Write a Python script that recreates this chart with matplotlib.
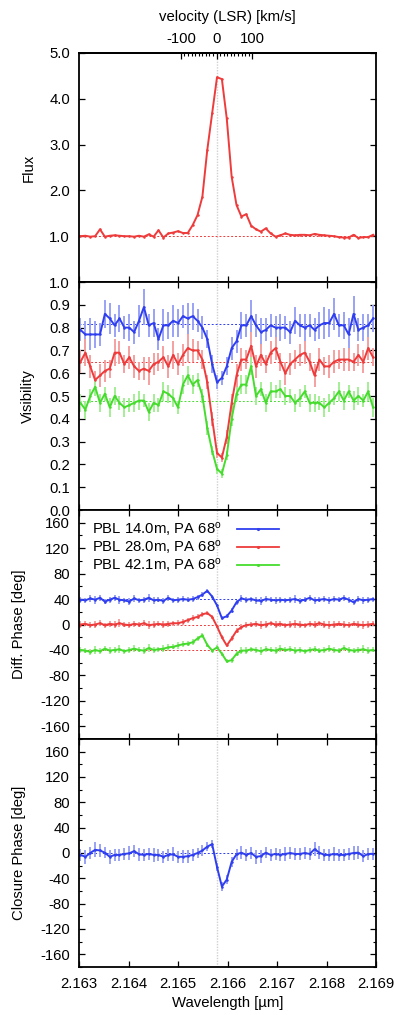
import numpy as np
import matplotlib
matplotlib.use("Agg")
import matplotlib.pyplot as plt
from matplotlib.lines import Line2D
from matplotlib.ticker import FixedLocator, FormatStrFormatter

FS = 10.7
plt.rcParams['font.family'] = ['Liberation Sans', 'DejaVu Sans']
plt.rcParams['font.size'] = FS
plt.rcParams['axes.unicode_minus'] = False
plt.rcParams['mathtext.fontset'] = 'custom'
plt.rcParams['mathtext.rm'] = 'Liberation Sans'
plt.rcParams['mathtext.it'] = 'Liberation Sans:italic'

# ---------------- data ----------------
lambda0 = 2.16578          # rest wavelength for velocity 0 (micron)
wl_start = 2.16303
wl_step = 0.0000985
n_pts = 61
wavelength = wl_start + wl_step * np.arange(n_pts)

flux = [1.00, 1.01, 0.99, 1.00, 1.15, 0.99, 1.01, 1.02, 1.01, 1.00,
        1.00, 0.99, 1.01, 0.99, 1.04, 0.99, 1.13, 0.97, 1.06, 1.08,
        1.11, 1.07, 1.07, 1.24, 1.46, 1.86, 2.88, 3.68, 4.47, 4.43,
        3.57, 2.30, 1.68, 1.43, 1.48, 1.23, 1.15, 1.10, 1.17, 1.06,
        0.99, 1.02, 1.06, 1.03, 1.02, 1.03, 1.03, 1.02, 1.05, 1.03,
        1.02, 1.01, 1.00, 0.98, 0.97, 0.97, 1.03, 0.96, 0.98, 0.98, 1.03]

vis_b = [0.79, 0.77, 0.77, 0.77, 0.77, 0.86, 0.84, 0.81, 0.84, 0.80,
         0.80, 0.78, 0.83, 0.89, 0.81, 0.82, 0.75, 0.81, 0.81, 0.83,
         0.82, 0.85, 0.84, 0.85, 0.83, 0.80, 0.75, 0.64, 0.56, 0.58,
         0.63, 0.71, 0.74, 0.81, 0.81, 0.85, 0.81, 0.78, 0.79, 0.81,
         0.80, 0.80, 0.80, 0.78, 0.83, 0.81, 0.80, 0.81, 0.79, 0.81,
         0.82, 0.82, 0.86, 0.81, 0.81, 0.77, 0.86, 0.79, 0.80, 0.81, 0.84]
vis_b_err = [0.05, 0.06, 0.07, 0.06, 0.05, 0.06, 0.07, 0.05, 0.06, 0.05,
             0.06, 0.05, 0.07, 0.08, 0.05, 0.06, 0.05, 0.07, 0.06, 0.07,
             0.06, 0.05, 0.07, 0.06, 0.05, 0.05, 0.04, 0.04, 0.03, 0.03,
             0.04, 0.05, 0.05, 0.06, 0.05, 0.07, 0.05, 0.06, 0.05, 0.05,
             0.05, 0.06, 0.05, 0.05, 0.06, 0.05, 0.06, 0.05, 0.05, 0.06,
             0.07, 0.06, 0.07, 0.05, 0.06, 0.07, 0.08, 0.05, 0.06, 0.05, 0.06]

vis_r = [0.65, 0.69, 0.63, 0.57, 0.59, 0.61, 0.62, 0.69, 0.69, 0.64,
         0.67, 0.63, 0.61, 0.62, 0.61, 0.64, 0.65, 0.67, 0.63, 0.68,
         0.64, 0.68, 0.71, 0.70, 0.70, 0.66, 0.56, 0.40, 0.25, 0.23,
         0.32, 0.47, 0.59, 0.66, 0.66, 0.72, 0.63, 0.68, 0.64, 0.69,
         0.71, 0.65, 0.60, 0.64, 0.66, 0.68, 0.69, 0.65, 0.59, 0.66,
         0.63, 0.63, 0.65, 0.66, 0.66, 0.66, 0.65, 0.68, 0.65, 0.71, 0.67]
vis_r_err = [0.05, 0.06, 0.05, 0.04, 0.05, 0.05, 0.04, 0.06, 0.05, 0.04,
             0.05, 0.05, 0.04, 0.05, 0.06, 0.05, 0.04, 0.05, 0.05, 0.06,
             0.05, 0.05, 0.06, 0.05, 0.04, 0.04, 0.03, 0.03, 0.02, 0.02,
             0.03, 0.04, 0.05, 0.05, 0.04, 0.06, 0.05, 0.05, 0.04, 0.05,
             0.05, 0.04, 0.05, 0.05, 0.04, 0.05, 0.05, 0.04, 0.05, 0.05,
             0.04, 0.05, 0.05, 0.04, 0.05, 0.05, 0.04, 0.05, 0.05, 0.05, 0.04]

vis_g = [0.47, 0.44, 0.50, 0.54, 0.47, 0.51, 0.45, 0.50, 0.47, 0.45,
         0.46, 0.47, 0.48, 0.48, 0.43, 0.47, 0.46, 0.52, 0.51, 0.49,
         0.45, 0.55, 0.59, 0.55, 0.57, 0.50, 0.36, 0.26, 0.18, 0.16,
         0.24, 0.40, 0.51, 0.55, 0.55, 0.63, 0.50, 0.53, 0.47, 0.52,
         0.52, 0.53, 0.50, 0.50, 0.47, 0.49, 0.52, 0.47, 0.47, 0.47,
         0.45, 0.47, 0.49, 0.52, 0.48, 0.52, 0.48, 0.50, 0.48, 0.52, 0.45]
vis_g_err = [0.04, 0.04, 0.03, 0.04, 0.04, 0.03, 0.04, 0.04, 0.03, 0.04,
             0.03, 0.04, 0.04, 0.03, 0.04, 0.04, 0.03, 0.04, 0.04, 0.04,
             0.03, 0.04, 0.04, 0.04, 0.03, 0.03, 0.03, 0.02, 0.02, 0.02,
             0.02, 0.03, 0.03, 0.04, 0.04, 0.04, 0.04, 0.03, 0.04, 0.04,
             0.03, 0.04, 0.04, 0.03, 0.04, 0.04, 0.03, 0.04, 0.04, 0.03,
             0.04, 0.04, 0.03, 0.04, 0.04, 0.03, 0.04, 0.04, 0.03, 0.04, 0.04]

dphi_b = [39, 38, 41, 39, 42, 36, 39, 42, 39, 38,
          36, 41, 38, 39, 42, 38, 39, 37, 42, 38,
          39, 40, 39, 40, 43, 47, 53, 44, 30, 10,
          13, 22, 35, 41, 39, 40, 38, 37, 40, 39,
          38, 39, 38, 39, 40, 37, 39, 42, 38, 39,
          40, 38, 40, 39, 42, 39, 35, 40, 38, 39, 40]
dphi_r = [0, 1, -1, 0, 2, -1, 1, 0, 2, 0,
          -1, 1, 0, 2, -1, 0, 1, 0, 1, 2,
          2, 4, 7, 10, 12, 16, 18, 12, -3, -20,
          -33, -22, -10, -4, -1, 0, 1, -1, 0, 2,
          0, 1, -1, 0, 1, 0, -1, 1, 0, 2,
          0, -1, 0, 1, 0, -1, 1, 0, -1, 0, 1]
dphi_g = [-40, -41, -43, -40, -42, -38, -41, -40, -39, -42,
          -40, -38, -40, -41, -37, -40, -39, -38, -36, -35,
          -33, -31, -30, -28, -22, -17, -32, -41, -36, -46,
          -58, -56, -46, -41, -41, -39, -40, -42, -39, -40,
          -41, -38, -40, -39, -41, -40, -42, -40, -39, -41,
          -40, -38, -40, -41, -37, -40, -41, -40, -39, -41, -40]
dphi_err = [5, 4, 5, 6, 5, 4, 5, 5, 6, 4,
            5, 5, 4, 5, 6, 5, 4, 5, 5, 4,
            5, 5, 4, 5, 4, 4, 3, 3, 3, 3,
            3, 4, 4, 5, 5, 4, 5, 6, 5, 4,
            5, 5, 4, 5, 6, 5, 4, 5, 5, 4,
            5, 6, 5, 4, 5, 5, 4, 5, 6, 5, 4]

cphi = [-3, -6, 0, 5, 4, 0.5, -6, -3, -3, -1.5,
        -0.5, 3, -2, -3, -1.5, -3, -3, -6, -3, -2,
        -6, -6, -5, -3, 0, 4, 10, 14, -22, -53,
        -42, -14, -2, 0.5, -3, 0, -6, -5, 0.5, -3,
        -1.5, -3, -1.5, 0, -1.5, -1.5, 0, -1.5, 6, 0.5,
        -3, -3, -1.5, -3, -3, -1.5, 0, 0.5, -5, -1.5, -1.5]
cphi_err = [10, 11, 9, 12, 10, 9, 11, 10, 9, 10,
            11, 9, 10, 10, 9, 11, 10, 9, 10, 11,
            9, 10, 10, 9, 8, 8, 7, 6, 6, 7,
            7, 8, 9, 10, 10, 9, 11, 10, 9, 10,
            10, 9, 11, 10, 9, 10, 10, 9, 11, 10,
            9, 10, 11, 10, 9, 10, 11, 10, 9, 10, 10]

vis_ref = [0.814, 0.649, 0.476]
dphi_ref = [40, 0, -40]
labels = ['PBL 14.0m, PA 68$^{\\rm o}$', 'PBL 28.0m, PA 68$^{\\rm o}$',
          'PBL 42.1m, PA 68$^{\\rm o}$']

# ---------------- style ----------------
C_B = '#2f3ff0'
C_R = '#ee3b3b'
C_G = '#46dc2e'
E_B = '#9aa2f6'
E_R = '#f4a0a0'
E_G = '#a4ee96'

W, H = 394, 1015
fig = plt.figure(figsize=(W / 100, H / 100), dpi=100)
left_px, right_px = 79, 376
bounds = [(53, 282), (282, 510), (510, 739), (739, 967)]
axes = []
for top, bot in bounds:
    ax = fig.add_axes([left_px / W, 1 - bot / H, (right_px - left_px) / W, (bot - top) / H])
    axes.append(ax)

xlim = (2.163, 2.169)
for ax in axes:
    ax.set_xlim(*xlim)
    ax.axvline(lambda0, color='#d0d0d0', lw=1.0, ls=(0, (1, 1)), zorder=0)
    for s in ax.spines.values():
        s.set_linewidth(1.3)
    ax.xaxis.set_major_locator(FixedLocator([2.163, 2.164, 2.165, 2.166, 2.167, 2.168, 2.169]))
    ax.tick_params(axis='both', which='both', direction='in', right=True, top=True)
    ax.tick_params(axis='both', which='major', length=4.5, width=0.9, pad=6.5, labelsize=FS)
    ax.tick_params(axis='both', which='minor', length=2.5, width=0.8)
    ax.tick_params(axis='x', labelbottom=False)

ref_ls = (0, (2, 2))
kw = dict(capsize=0, elinewidth=1.4, lw=1.4, marker='.', ms=1.6)

# Panel 1: flux
ax = axes[0]
ax.plot(wavelength, flux, color=C_R, lw=1.4, marker='.', ms=1.6)
ax.axhline(1.0, color=C_R, lw=0.7, ls=ref_ls)
ax.set_ylim(0, 5)
ax.set_yticks([1, 2, 3, 4, 5])
ax.yaxis.set_major_formatter(FormatStrFormatter('%.1f'))
ax.set_ylabel('Flux', labelpad=10)
ax.tick_params(axis='x', top=False)

def w2v(w):
    return (np.asarray(w) - lambda0) / lambda0 * 299792.458

def v2w(v):
    return lambda0 * (1 + np.asarray(v) / 299792.458)

sec = ax.secondary_xaxis('top', functions=(w2v, v2w))
sec.set_xticks([-100, 0, 100])
sec.xaxis.set_minor_locator(FixedLocator(np.arange(-100, 101, 10)))
sec.tick_params(which='major', direction='in', length=4, width=0.9, pad=5, labelsize=FS)
sec.tick_params(which='minor', direction='in', length=2.5, width=0.8)
sec.set_xlabel('velocity (LSR) [km/s]', labelpad=8)
sec.spines['top'].set_linewidth(1.3)

# Panel 2: visibility
ax = axes[1]
for v, e, c, ec, r in [(vis_b, vis_b_err, C_B, E_B, vis_ref[0]),
                       (vis_r, vis_r_err, C_R, E_R, vis_ref[1]),
                       (vis_g, vis_g_err, C_G, E_G, vis_ref[2])]:
    ax.axhline(r, color=c, lw=0.7, ls=ref_ls, zorder=1)
    ax.errorbar(wavelength, v, yerr=e, color=c, ecolor=ec, **kw)
ax.set_ylim(0, 1)
ax.set_yticks(np.round(np.arange(0, 1.01, 0.1), 1))
ax.yaxis.set_major_formatter(FormatStrFormatter('%.1f'))
ax.set_ylabel('Visibility', labelpad=10)

# Panel 3: differential phase
ax = axes[2]
ax.axhline(dphi_ref[0], color=C_B, lw=0.7, ls=ref_ls, zorder=1)
ax.axhline(dphi_ref[1], color=C_R, lw=0.7, ls=ref_ls, zorder=1)
ax.axhline(dphi_ref[2], color=C_R, lw=0.7, ls=ref_ls, zorder=1)
for v, c, ec in [(dphi_b, C_B, E_B), (dphi_r, C_R, E_R), (dphi_g, C_G, E_G)]:
    ax.errorbar(wavelength, v, yerr=dphi_err, color=c, ecolor=ec, **kw)
handles = [Line2D([], [], color=c, lw=1.3, marker='.', ms=2.5) for c in (C_B, C_R, C_G)]
ax.legend(handles, labels, loc='upper left', bbox_to_anchor=(0.045, 0.955),
          frameon=False, markerfirst=False, borderpad=0, borderaxespad=0,
          handlelength=2.8, handletextpad=1.0, labelspacing=0.0, fontsize=FS)
ax.set_ylabel('Diff. Phase [deg]', labelpad=10)

# Panel 4: closure phase
ax = axes[3]
ax.axhline(0, color=C_B, lw=0.7, ls=ref_ls, zorder=1)
ax.errorbar(wavelength, cphi, yerr=cphi_err, color=C_B, ecolor=E_B, **kw)
ax.set_ylabel('Closure Phase [deg]', labelpad=10)
ax.tick_params(axis='x', labelbottom=True, pad=7)
ax.xaxis.set_major_formatter(FormatStrFormatter('%.3f'))
ax.set_xlabel('Wavelength [µm]', labelpad=4)

for ax in axes[2:]:
    ax.set_ylim(-180, 180)
    ax.set_yticks(np.arange(-160, 161, 40))
    ax.yaxis.set_minor_locator(FixedLocator(np.arange(-180, 181, 20)))

fig.savefig('out.png', dpi=100)
